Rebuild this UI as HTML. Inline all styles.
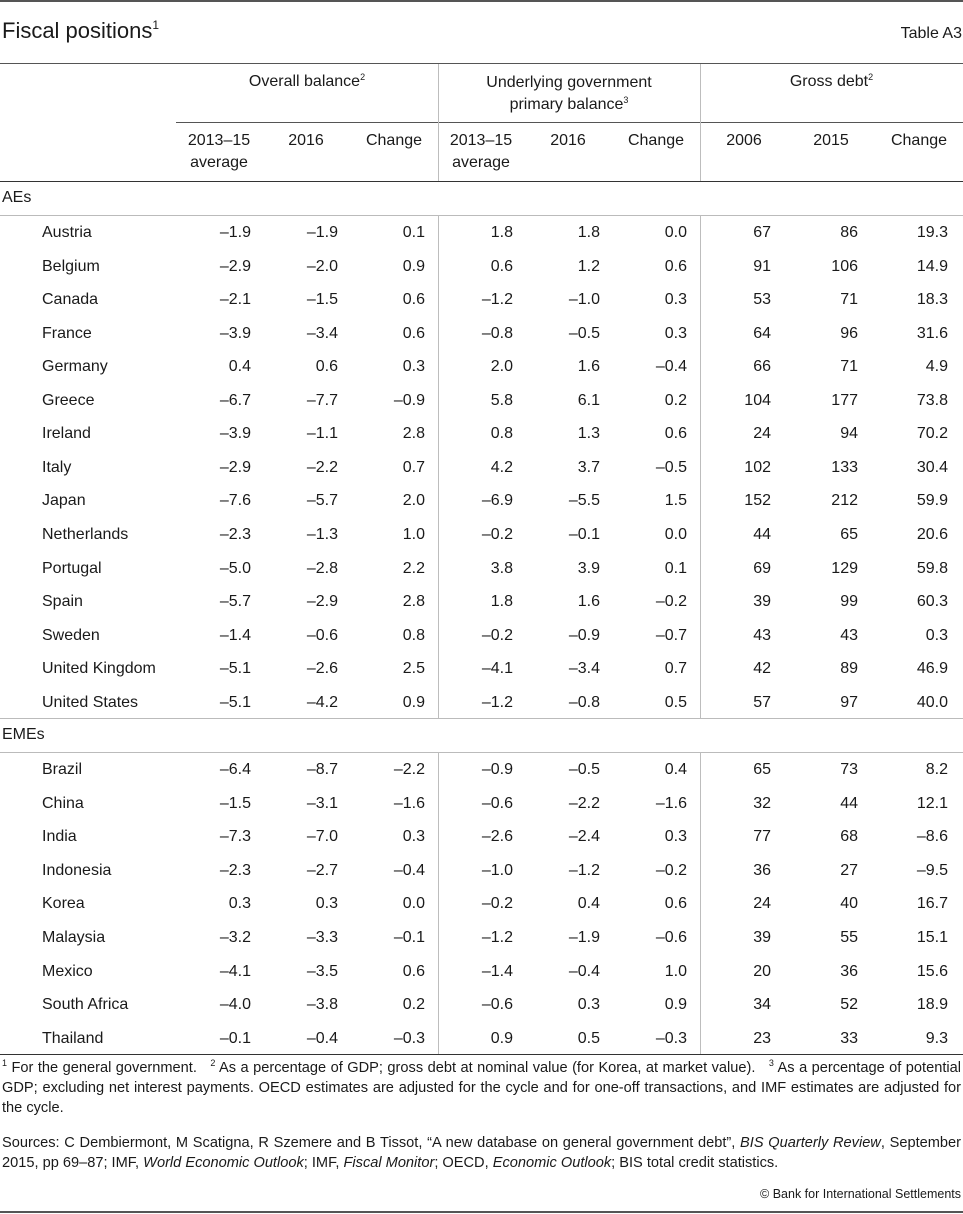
<!DOCTYPE html>
<html><head><meta charset="utf-8"><style>
body{margin:0;width:963px;height:1214px;background:#fff;font-family:"Liberation Sans",sans-serif;color:#1a1a1a;position:relative;overflow:hidden}
.a{position:absolute;white-space:nowrap}
.h{position:absolute;height:0}
.v{position:absolute;width:1px;background:#bdbdbd}
.t{font-size:16px;line-height:20px}
sup{font-size:9px;vertical-align:6px;line-height:0}
.fn{position:absolute;left:2px;width:959px;font-size:14.6px;line-height:20px;text-align:justify}
</style></head><body>
<div class="h" style="left:0;top:0;width:963px;border-top:2px solid #555"></div>
<div class="a" style="left:2px;top:16px;font-size:22px;line-height:30px">Fiscal positions<sup style="font-size:12px;vertical-align:9px">1</sup></div>
<div class="a t" style="right:1px;top:24px">Table A3</div>
<div class="h" style="left:0;top:63px;width:963px;border-top:1.5px solid #555"></div>
<div class="h" style="left:176px;top:122px;width:787px;border-top:1px solid #555"></div>
<div class="h" style="left:0;top:181px;width:963px;border-top:1.5px solid #333"></div>
<div class="a t" style="left:176px;width:262px;text-align:center;top:72px">Overall balance<sup>2</sup></div>
<div class="a t" style="left:438px;width:262px;text-align:center;top:72px;white-space:normal;line-height:22px">Underlying government<br>primary balance<sup>3</sup></div>
<div class="a t" style="left:700px;width:263px;text-align:center;top:72px">Gross debt<sup>2</sup></div>
<div id="tbl"></div>
<div class="fn" style="top:1058px"><sup>1</sup> For the general government. &nbsp;&nbsp;<sup>2</sup> As a percentage of GDP; gross debt at nominal value (for Korea, at market value). &nbsp;&nbsp;<sup>3</sup> As a percentage of potential GDP; excluding net interest payments. OECD estimates are adjusted for the cycle and for one-off transactions, and IMF estimates are adjusted for the cycle.</div>
<div class="fn" style="top:1133px">Sources: C Dembiermont, M Scatigna, R Szemere and B Tissot, “A new database on general government debt”, <i>BIS Quarterly Review</i>, September 2015, pp 69–87; IMF, <i>World Economic Outlook</i>; IMF, <i>Fiscal Monitor</i>; OECD, <i>Economic Outlook</i>; BIS total credit statistics.</div>
<div class="a" style="right:2px;top:1187px;font-size:12.5px">© Bank for International Settlements</div>
<div class="h" style="left:0;top:1211px;width:963px;border-top:2px solid #555"></div>
<script>
const subHeaders=[["2013–15","average"],["2016"],["Change"],["2013–15","average"],["2016"],["Change"],["2006"],["2015"],["Change"]];
const aeNames=["Austria","Belgium","Canada","France","Germany","Greece","Ireland","Italy","Japan","Netherlands","Portugal","Spain","Sweden","United Kingdom","United States"];
const aeValues=[
["–1.9","–1.9","0.1","1.8","1.8","0.0","67","86","19.3"],
["–2.9","–2.0","0.9","0.6","1.2","0.6","91","106","14.9"],
["–2.1","–1.5","0.6","–1.2","–1.0","0.3","53","71","18.3"],
["–3.9","–3.4","0.6","–0.8","–0.5","0.3","64","96","31.6"],
["0.4","0.6","0.3","2.0","1.6","–0.4","66","71","4.9"],
["–6.7","–7.7","–0.9","5.8","6.1","0.2","104","177","73.8"],
["–3.9","–1.1","2.8","0.8","1.3","0.6","24","94","70.2"],
["–2.9","–2.2","0.7","4.2","3.7","–0.5","102","133","30.4"],
["–7.6","–5.7","2.0","–6.9","–5.5","1.5","152","212","59.9"],
["–2.3","–1.3","1.0","–0.2","–0.1","0.0","44","65","20.6"],
["–5.0","–2.8","2.2","3.8","3.9","0.1","69","129","59.8"],
["–5.7","–2.9","2.8","1.8","1.6","–0.2","39","99","60.3"],
["–1.4","–0.6","0.8","–0.2","–0.9","–0.7","43","43","0.3"],
["–5.1","–2.6","2.5","–4.1","–3.4","0.7","42","89","46.9"],
["–5.1","–4.2","0.9","–1.2","–0.8","0.5","57","97","40.0"]];
const emeNames=["Brazil","China","India","Indonesia","Korea","Malaysia","Mexico","South Africa","Thailand"];
const emeValues=[
["–6.4","–8.7","–2.2","–0.9","–0.5","0.4","65","73","8.2"],
["–1.5","–3.1","–1.6","–0.6","–2.2","–1.6","32","44","12.1"],
["–7.3","–7.0","0.3","–2.6","–2.4","0.3","77","68","–8.6"],
["–2.3","–2.7","–0.4","–1.0","–1.2","–0.2","36","27","–9.5"],
["0.3","0.3","0.0","–0.2","0.4","0.6","24","40","16.7"],
["–3.2","–3.3","–0.1","–1.2","–1.9","–0.6","39","55","15.1"],
["–4.1","–3.5","0.6","–1.4","–0.4","1.0","20","36","15.6"],
["–4.0","–3.8","0.2","–0.6","0.3","0.9","34","52","18.9"],
["–0.1","–0.4","–0.3","0.9","0.5","–0.3","23","33","9.3"]];
const colCenters=[219,306,394,481,568,656,744,831,919];
const colRights=[251,338,425,513,600,687,771,858,948];
const T=document.getElementById('tbl');
function mk(cls,style,txt){const d=document.createElement('div');d.className=cls;d.style.cssText=style;if(txt!==undefined)d.textContent=txt;T.appendChild(d);return d;}
subHeaders.forEach((h,i)=>{
 const d=mk('a t','left:'+(colCenters[i]-45)+'px;width:90px;text-align:center;top:130px;line-height:22px');
 d.innerHTML=h.join('<br>');
 
 
});
const rowH=33.55;
function group(label,top,names,vals,key){
 const g=mk('a t','left:2px;top:'+(top+7)+'px',label);
 
 
 const l=mk('h','left:0;top:'+(top+34)+'px;width:963px;border-top:1px solid #bbb');
 
 
 const y0=top+34;
 names.forEach((n,r)=>{
  const y=y0+r*rowH+8;
  const c=mk('a t','left:42px;top:'+y+'px',n);
  
  
  vals[r].forEach((v,i)=>{
   const e=mk('a t','right:'+(963-colRights[i])+'px;top:'+y+'px',v);
   
   
  });
 });
 const yEnd=y0+names.length*rowH;
 [438,700].forEach((x,k)=>{
  const v=mk('v','left:'+x+'px;top:'+y0+'px;height:'+(yEnd-y0)+'px');
  
  
 });
 return yEnd;
}
[438,700].forEach((x,k)=>{
 const v=mk('v','left:'+x+'px;top:64px;height:117px');
 
 
});
let e=group('AEs',181,aeNames,aeValues,'aes');
const sep=mk('h','left:0;top:'+e+'px;width:963px;border-top:1px solid #bbb');


e=group('EMEs',e,emeNames,emeValues,'emes');
const b=mk('h','left:0;top:'+e+'px;width:963px;border-top:1.5px solid #333');


</script>
</body></html>
